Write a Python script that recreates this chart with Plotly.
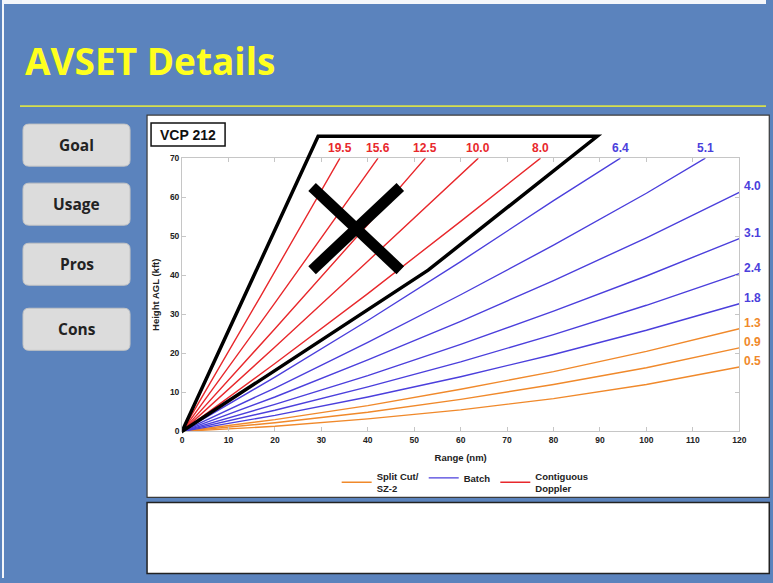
import plotly.graph_objects as go

# ---------------- data ----------------
# Split Cut / SZ-2 elevations (orange)
E05_R = [0, 20, 40, 60, 80, 100, 120]; E05_H = [0, 1.3, 3.2, 5.5, 8.4, 12.0, 16.5]
E09_R = [0, 20, 40, 60, 80, 100, 120]; E09_H = [0, 2.2, 4.9, 8.2, 12.0, 16.3, 21.4]
E13_R = [0, 20, 40, 60, 80, 100, 120]; E13_H = [0, 3.0, 6.6, 10.8, 15.3, 20.5, 26.3]
# Batch elevations (blue)
E18_R = [0, 20, 40, 60, 80, 100, 120]; E18_H = [0, 4.1, 8.8, 14.0, 19.7, 25.9, 32.7]
E24_R = [0, 20, 40, 60, 80, 100, 120]; E24_H = [0, 5.4, 11.4, 17.8, 24.8, 32.3, 40.4]
E31_R = [0, 20, 40, 60, 80, 100, 120]; E31_H = [0, 6.9, 14.3, 22.3, 30.8, 39.8, 49.4]
E40_R = [0, 20, 40, 60, 80, 100, 120]; E40_H = [0, 8.8, 18.3, 28.2, 38.6, 49.6, 61.2]
E51_R = [0, 20, 40, 60, 80, 100, 112.7]; E51_H = [0, 11.1, 22.8, 35.0, 47.7, 61.0, 70]
E64_R = [0, 20, 40, 60, 80, 94.4]; E64_H = [0, 13.9, 28.4, 43.5, 59.1, 70]
# Contiguous Doppler elevations (red)
E80_R = [0, 20, 40, 60, 77.2]; E80_H = [0, 17.4, 35.3, 53.8, 70]
E100_R = [0, 20, 40, 63.8]; E100_H = [0, 21.6, 43.6, 70]
E125_R = [0, 20, 40, 52.4]; E125_H = [0, 26.3, 53.0, 70]
E156_R = [0, 20, 42.2]; E156_H = [0, 32.9, 70]
E195_R = [0, 17, 34.0]; E195_H = [0, 34.8, 70]

SPLIT = [("0.5", E05_R, E05_H), ("0.9", E09_R, E09_H), ("1.3", E13_R, E13_H)]
BATCH = [("1.8", E18_R, E18_H), ("2.4", E24_R, E24_H), ("3.1", E31_R, E31_H),
         ("4.0", E40_R, E40_H), ("5.1", E51_R, E51_H), ("6.4", E64_R, E64_H)]
CD = [("8.0", E80_R, E80_H), ("10.0", E100_R, E100_H), ("12.5", E125_R, E125_H),
      ("15.6", E156_R, E156_H), ("19.5", E195_R, E195_H)]

GROUPS = [("Split Cut/<br>SZ-2", SPLIT), ("Batch", BATCH), ("Contiguous<br>Doppler", CD)]

# "no-AVSET" region outline (range nm, height kft) and the cross
REGION_R = [0, 29.3, 89.4, 53.0, 0]
REGION_H = [0, 75.6, 75.6, 41.3, 0]
CROSS_R = [28.0, 47.0]
CROSS_H = [41.3, 62.6]

BUTTONS = ["Goal", "Usage", "Pros", "Cons"]

X_MAX, Y_MAX = 120, 70

# ---------------- styling ----------------
W, H = 773, 583
BLUE_BG = "#5b83bd"
LINE_COL = {"Split Cut/<br>SZ-2": "#f0892b", "Batch": "#4b3fdc", "Contiguous<br>Doppler": "#e8282c"}
FONT = "Liberation Sans"

# small correction for the capture's placement (measured from earlier renders)
CX_OFF, CX_SCALE = 2.0, 0.988
CY_OFF, CY_SCALE = 5.0, 0.982


def px(x):
    return ((x - CX_OFF) / CX_SCALE) / W


def py(y):
    return 1 - ((y - CY_OFF) / CY_SCALE) / H


fig = go.Figure()

for name, series in GROUPS:
    for i, (lab, r, h) in enumerate(series):
        fig.add_trace(go.Scatter(
            x=r, y=h, mode="lines", name=name, legendgroup=name,
            showlegend=(i == 0), line=dict(color=LINE_COL[name], width=1.4),
            hoverinfo="skip"))

shapes = []
# thin light edges on the left and top
shapes.append(dict(type="rect", xref="paper", yref="paper", x0=0, x1=px(4), y0=0, y1=1.05,
                   fillcolor="#f4f6fa", line=dict(width=0), layer="below"))
shapes.append(dict(type="rect", xref="paper", yref="paper", x0=0, x1=1, y0=py(4), y1=1.05,
                   fillcolor="#f4f6fa", line=dict(width=0), layer="below"))
# yellow rule
shapes.append(dict(type="line", xref="paper", yref="paper", x0=px(20), x1=1, y0=py(106), y1=py(106),
                   line=dict(color="#d6df4c", width=1.6)))
# chart panel
shapes.append(dict(type="rect", xref="paper", yref="paper", x0=px(147), x1=px(769), y0=py(497), y1=py(115),
                   fillcolor="white", line=dict(color="#3a3a3a", width=1.2), layer="below"))
# bottom text box
shapes.append(dict(type="rect", xref="paper", yref="paper", x0=px(147), x1=px(769), y0=py(573), y1=py(502),
                   fillcolor="white", line=dict(color="#222222", width=1.5), layer="below"))


def rounded(x0, y0, x1, y1, r):
    rx, ry = r / W, r / H
    X0, X1, Y0, Y1 = px(x0), px(x1), py(y1), py(y0)
    return (f"M {X0+rx},{Y0} L {X1-rx},{Y0} Q {X1},{Y0} {X1},{Y0+ry} L {X1},{Y1-ry} "
            f"Q {X1},{Y1} {X1-rx},{Y1} L {X0+rx},{Y1} Q {X0},{Y1} {X0},{Y1-ry} "
            f"L {X0},{Y0+ry} Q {X0},{Y0} {X0+rx},{Y0} Z")


annotations = []
btn_tops = [124, 183, 243, 308]
for name, top in zip(BUTTONS, btn_tops):
    shapes.append(dict(type="path", xref="paper", yref="paper", path=rounded(23, top, 130, top + 42, 6),
                       fillcolor="#dcdcdc", line=dict(color="#c4c4c4", width=1), layer="below"))
    annotations.append(dict(xref="paper", yref="paper", x=px(76.5), y=py(top + 21), text=f"<b>{name}</b>",
                            showarrow=False, font=dict(family="Open Sans", size=15.5, color="#222222"),
                            xanchor="center", yanchor="middle"))

# VCP label box
shapes.append(dict(type="rect", xref="paper", yref="paper", x0=px(151), x1=px(225), y0=py(146), y1=py(123),
                   fillcolor="white", line=dict(color="#111111", width=1.5)))
annotations.append(dict(xref="paper", yref="paper", x=px(188), y=py(134.5), text="<b>VCP 212</b>",
                        showarrow=False, font=dict(family=FONT, size=14, color="#111111"),
                        xanchor="center", yanchor="middle"))

# title
annotations.append(dict(xref="paper", yref="paper", x=px(23), y=py(60), text="<b>AVSET Details</b>",
                        showarrow=False, font=dict(family="Open Sans", size=37, color="#ffff1e"),
                        xanchor="left", yanchor="middle"))

# region outline (x in data, y in axis-domain units so it may rise above the top axis)
path = "M " + " L ".join(f"{r},{h / Y_MAX}" for r, h in zip(REGION_R[:-1], REGION_H[:-1])) + " Z"
shapes.append(dict(type="path", xref="x", yref="y domain", path=path,
                   line=dict(color="black", width=3.5), fillcolor="rgba(0,0,0,0)"))
# cross
shapes.append(dict(type="line", xref="x", yref="y", x0=CROSS_R[0], y0=CROSS_H[1], x1=CROSS_R[1], y1=CROSS_H[0],
                   line=dict(color="black", width=11)))
shapes.append(dict(type="line", xref="x", yref="y", x0=CROSS_R[0], y0=CROSS_H[0], x1=CROSS_R[1], y1=CROSS_H[1],
                   line=dict(color="black", width=11)))

# elevation labels
for name, series in GROUPS:
    col = LINE_COL[name]
    for lab, r, h in series:
        if h[-1] >= Y_MAX - 0.01:
            annotations.append(dict(xref="x", yref="y", x=r[-1], y=h[-1], text=f"<b>{lab}</b>",
                                    showarrow=False, xanchor="center", yanchor="bottom", yshift=1,
                                    font=dict(family=FONT, size=12, color=col)))
        else:
            annotations.append(dict(xref="x", yref="y", x=r[-1], y=h[-1], text=f"<b>{lab}</b>",
                                    showarrow=False, xanchor="left", yanchor="middle", xshift=3, yshift=6,
                                    font=dict(family=FONT, size=12, color=col)))

axis_common = dict(showline=True, linecolor="#c6c6c6", linewidth=1, mirror="ticks", ticks="inside",
                   ticklen=4, tickcolor="#c6c6c6", showgrid=False, zeroline=False,
                   tickfont=dict(family=FONT, size=8.5, color="#222222", weight="bold"))

fig.update_layout(
    width=W, height=H, autosize=False,
    margin=dict(l=0, r=0, t=0, b=0),
    paper_bgcolor=BLUE_BG, plot_bgcolor="white",
    xaxis=dict(range=[0, X_MAX], dtick=10, domain=[px(182), px(739)],
               title=dict(text="<b>Range (nm)</b>", font=dict(family=FONT, size=9.5, color="#222222"), standoff=10),
               **axis_common),
    yaxis=dict(range=[0, Y_MAX], dtick=10, domain=[py(431), py(158)],
               title=dict(text="<b>Height AGL (kft)</b>", font=dict(family=FONT, size=9.5, color="#222222"), standoff=8),
               **axis_common),
    legend=dict(orientation="h", x=px(465), xanchor="center", y=py(482), yanchor="middle",
                font=dict(family=FONT, size=9.5, color="#222222", weight="bold"),
                bgcolor="rgba(0,0,0,0)", itemwidth=30, tracegroupgap=0),
    shapes=shapes, annotations=annotations, showlegend=True,
)

POST = (
    "document.documentElement.style.margin='0';"
    "document.body.style.margin='0';document.body.style.padding='0';"
    "document.body.style.overflow='hidden';document.body.style.background='" + BLUE_BG + "';"
)

fig.write_html("out.html", config={"displayModeBar": False}, post_script=POST)
